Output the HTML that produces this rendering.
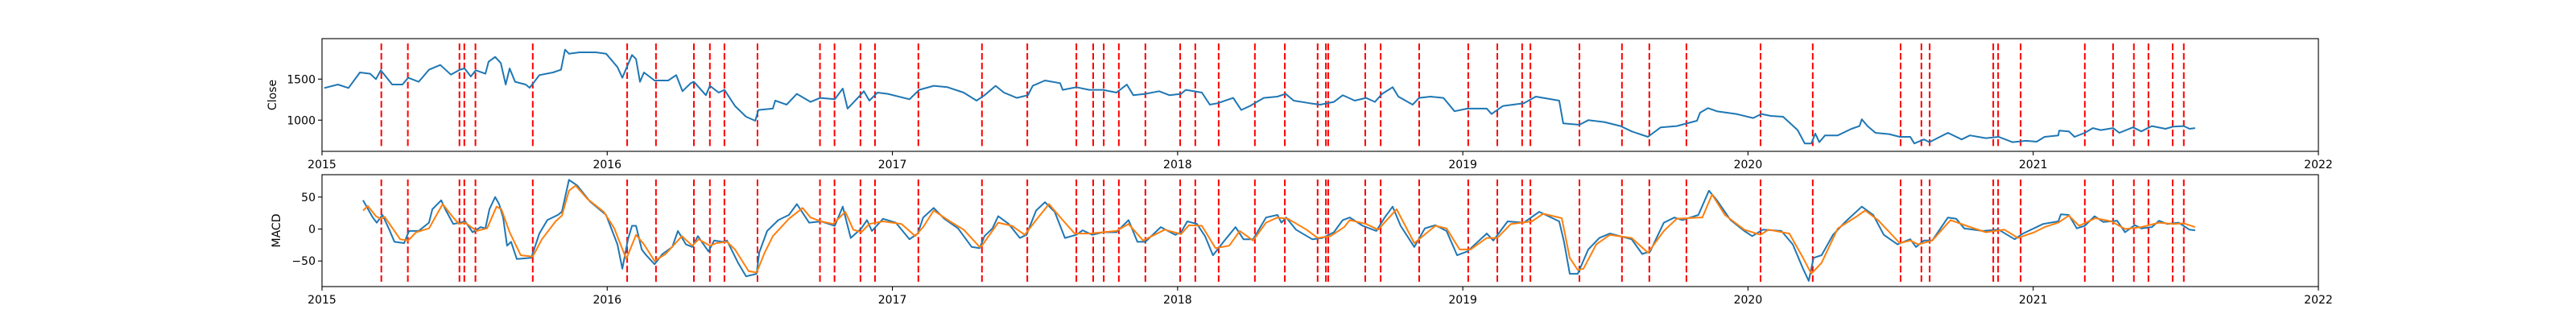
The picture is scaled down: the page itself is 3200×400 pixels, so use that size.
<!DOCTYPE html>
<html><head><meta charset="utf-8"><style>
html,body{margin:0;padding:0;background:#fff;}
svg{display:block;font-family:"DejaVu Sans","Liberation Sans",sans-serif;}
</style></head><body>
<svg id="chart" width="3200" height="400" viewBox="0 0 3200 400" xmlns="http://www.w3.org/2000/svg"></svg>
<script>
// time values are in years since 2015-01-01
const xTickLabels = ["2015","2016","2017","2018","2019","2020","2021","2022"];
const closeTicks = [1000,1500];
const macdTicks = [-50,0,50];
const signalT = [0.208,0.301,0.482,0.499,0.538,0.739,1.070,1.171,1.304,1.360,1.411,1.527,1.746,1.797,1.888,1.939,2.091,2.314,2.473,2.645,2.704,2.741,2.794,2.887,3.009,3.062,3.144,3.271,3.376,3.491,3.520,3.528,3.658,3.712,3.847,4.019,4.121,4.208,4.237,4.409,4.558,4.654,4.784,5.044,5.227,5.535,5.608,5.637,5.860,5.877,5.956,6.181,6.280,6.353,6.404,6.489,6.528];
const closeT = [0.008,0.056,0.093,0.133,0.169,0.189,0.206,0.246,0.282,0.302,0.339,0.375,0.415,0.452,0.483,0.500,0.522,0.539,0.573,0.584,0.607,0.627,0.644,0.658,0.677,0.714,0.728,0.742,0.762,0.810,0.838,0.852,0.866,0.903,0.960,0.996,1.036,1.053,1.073,1.087,1.101,1.115,1.129,1.166,1.214,1.242,1.264,1.293,1.304,1.346,1.360,1.391,1.411,1.448,1.487,1.519,1.530,1.581,1.589,1.629,1.665,1.713,1.747,1.798,1.826,1.843,1.883,1.900,1.919,1.948,1.984,2.060,2.094,2.145,2.193,2.250,2.295,2.323,2.362,2.391,2.436,2.475,2.492,2.535,2.588,2.597,2.645,2.690,2.738,2.786,2.822,2.845,2.887,2.935,2.972,3.012,3.029,3.085,3.113,3.141,3.195,3.223,3.254,3.302,3.350,3.379,3.407,3.463,3.500,3.548,3.579,3.590,3.621,3.661,3.692,3.717,3.754,3.774,3.824,3.847,3.887,3.932,3.971,4.016,4.084,4.101,4.141,4.214,4.256,4.338,4.352,4.409,4.440,4.496,4.553,4.592,4.649,4.694,4.750,4.821,4.832,4.860,4.891,4.959,5.018,5.047,5.080,5.123,5.174,5.199,5.222,5.236,5.250,5.270,5.315,5.363,5.391,5.399,5.419,5.447,5.495,5.532,5.569,5.583,5.617,5.636,5.701,5.749,5.778,5.834,5.879,5.927,5.975,6.012,6.040,6.088,6.091,6.125,6.145,6.181,6.209,6.237,6.280,6.302,6.350,6.379,6.416,6.464,6.492,6.528,6.548,6.568];
const closeV = [1392,1434,1392,1581,1565,1500,1608,1434,1434,1516,1467,1614,1672,1555,1614,1630,1532,1608,1565,1712,1770,1696,1434,1630,1467,1434,1395,1457,1549,1581,1614,1859,1810,1826,1826,1810,1647,1516,1679,1794,1745,1467,1581,1483,1483,1549,1353,1451,1467,1304,1418,1336,1369,1173,1042,993,1124,1141,1238,1189,1320,1222,1271,1255,1385,1141,1287,1353,1238,1336,1320,1255,1369,1418,1402,1336,1238,1304,1418,1336,1271,1304,1418,1483,1451,1369,1402,1369,1369,1336,1434,1304,1320,1353,1304,1320,1369,1336,1189,1206,1271,1124,1173,1271,1287,1320,1238,1206,1189,1222,1304,1287,1238,1271,1222,1320,1402,1287,1189,1271,1287,1271,1108,1141,1141,1075,1173,1206,1287,1238,961,944,1000,977,928,863,797,912,928,993,1091,1147,1108,1075,1026,1075,1052,1042,879,716,716,837,732,814,814,895,928,1010,928,846,830,797,797,716,765,732,846,765,814,781,797,732,748,738,797,814,873,863,797,846,903,879,903,846,912,863,928,895,922,928,895,903];
const macdT = [0.144,0.178,0.192,0.212,0.234,0.254,0.288,0.305,0.339,0.375,0.387,0.418,0.432,0.460,0.485,0.502,0.528,0.556,0.573,0.587,0.607,0.621,0.635,0.649,0.663,0.683,0.734,0.762,0.790,0.827,0.841,0.866,0.895,0.940,0.996,1.036,1.053,1.073,1.087,1.101,1.121,1.137,1.166,1.194,1.228,1.248,1.276,1.298,1.318,1.355,1.375,1.406,1.420,1.459,1.487,1.524,1.533,1.561,1.600,1.637,1.665,1.708,1.750,1.798,1.826,1.854,1.891,1.911,1.928,1.967,2.012,2.060,2.089,2.108,2.145,2.182,2.230,2.278,2.306,2.323,2.351,2.371,2.408,2.447,2.470,2.504,2.535,2.569,2.605,2.645,2.667,2.701,2.738,2.786,2.828,2.859,2.887,2.941,2.992,3.012,3.034,3.068,3.096,3.124,3.161,3.203,3.231,3.265,3.310,3.350,3.364,3.381,3.415,3.472,3.508,3.548,3.579,3.604,3.649,3.697,3.726,3.754,3.782,3.830,3.867,3.904,3.943,3.980,4.016,4.084,4.107,4.157,4.214,4.268,4.338,4.355,4.375,4.403,4.440,4.479,4.516,4.592,4.629,4.657,4.705,4.742,4.770,4.826,4.863,4.891,4.939,4.987,5.015,5.052,5.117,5.157,5.193,5.213,5.230,5.258,5.298,5.343,5.399,5.439,5.476,5.524,5.569,5.589,5.617,5.646,5.701,5.730,5.758,5.823,5.879,5.935,5.964,6.035,6.088,6.097,6.125,6.153,6.181,6.215,6.246,6.294,6.322,6.356,6.379,6.416,6.441,6.470,6.510,6.548,6.568];
const macdV = [45,18,10,22,1,-20,-22,-3,-3,10,31,45,31,8,10,12,-5,3,1,31,50,39,18,-26,-20,-47,-45,-7,14,22,27,77,68,43,22,-24,-62,-16,5,5,-32,-41,-55,-39,-28,-3,-24,-28,-11,-35,-18,-20,-18,-53,-74,-70,-37,-3,14,22,39,10,12,5,35,-14,1,14,-3,16,10,-16,-7,18,33,16,1,-28,-30,-11,1,20,8,-14,-9,29,42,27,-14,-9,-2,-9,-5,-5,14,-20,-20,3,-9,-5,12,8,-11,-41,-20,3,-16,-16,18,22,10,18,-1,-16,-14,-5,14,18,5,-3,18,35,5,-28,1,6,-3,-41,-35,-7,-18,12,10,27,12,-20,-70,-70,-32,-14,-7,-16,-39,-35,10,18,14,22,60,45,14,-3,-11,-1,-3,-24,-62,-81,-45,-41,-9,12,35,22,-9,-24,-16,-28,-18,-18,18,16,1,-3,-1,-16,-7,8,12,23,22,1,5,20,11,13,-5,6,1,3,13,8,10,-1,-2];
const sigLineT = [0.144,0.161,0.189,0.206,0.220,0.274,0.302,0.330,0.375,0.423,0.460,0.480,0.502,0.542,0.579,0.612,0.629,0.658,0.697,0.739,0.771,0.819,0.841,0.866,0.889,0.931,0.988,1.025,1.067,1.101,1.129,1.166,1.205,1.262,1.298,1.321,1.360,1.383,1.420,1.448,1.496,1.524,1.552,1.581,1.637,1.685,1.713,1.750,1.792,1.835,1.863,1.891,1.919,1.967,2.032,2.080,2.108,2.145,2.202,2.250,2.306,2.314,2.371,2.419,2.464,2.504,2.549,2.597,2.639,2.690,2.786,2.828,2.879,2.955,3.012,3.040,3.085,3.133,3.181,3.218,3.265,3.310,3.350,3.387,3.452,3.491,3.536,3.584,3.604,3.661,3.703,3.768,3.830,3.904,3.943,3.989,4.027,4.084,4.121,4.169,4.242,4.282,4.347,4.375,4.403,4.423,4.468,4.516,4.592,4.649,4.705,4.750,4.826,4.840,4.874,4.919,4.987,5.044,5.072,5.145,5.193,5.222,5.258,5.315,5.382,5.411,5.456,5.532,5.569,5.597,5.646,5.710,5.766,5.834,5.899,5.947,6.004,6.040,6.088,6.125,6.161,6.218,6.274,6.322,6.379,6.441,6.492,6.528,6.568];
const sigLineV = [29,36,20,16,19,-16,-18,-5,1,39,18,8,10,-3,1,35,31,-5,-41,-43,-16,12,21,60,68,47,27,1,-47,-9,-24,-50,-39,-11,-26,-16,-26,-22,-20,-32,-66,-68,-37,-11,16,33,18,12,8,27,-1,-5,8,12,8,-11,3,29,12,-1,-28,-26,10,5,-9,14,39,14,-7,-7,-3,8,-18,-1,-8,6,5,-30,-26,-3,-18,10,18,16,-1,-14,-11,3,14,8,-1,31,-22,5,1,-32,-32,-14,-14,8,12,24,17,-45,-64,-62,-24,-9,-14,-37,-3,16,18,18,54,22,-1,-9,-1,-7,-45,-70,-53,1,20,29,14,-22,-18,-24,-18,14,5,-5,-1,-14,-5,3,10,21,5,17,12,0,3,10,8,9,3];

const NS = "http://www.w3.org/2000/svg";
const svg = document.getElementById('chart');
const X0 = 400, X1 = 2880;
function xs(t){ return X0 + (t/7)*(X1-X0); }
function mk(tag, attrs, parent){
  const e = document.createElementNS(NS, tag);
  for (const k in attrs) e.setAttribute(k, attrs[k]);
  (parent||svg).appendChild(e);
  return e;
}
function panel(top, bottom, ymin, ymax, ticks, label, name){
  const g = mk('g', {});
  
  
  const ys = v => bottom - (v-ymin)/(ymax-ymin)*(bottom-top);
  // red signal lines
  const gl = mk('g', {}, g);
  
  
  const y0 = top + (bottom-top)*0.043, y1 = bottom - (bottom-top)*0.043;
  signalT.forEach(t => {
    const l = mk('line', {x1:xs(t), x2:xs(t), y1:y0, y2:y1, stroke:'#ff0000', 'stroke-width':2, 'stroke-dasharray':'8.3,3.6'}, gl);
    
    
  });
  // frame
  const fr = mk('rect', {x:X0, y:top, width:X1-X0, height:bottom-top, fill:'none', stroke:'#000', 'stroke-width':1.1}, g);
  
  
  // y ticks
  ticks.forEach(v => {
    const y = ys(v);
    mk('line', {x1:X0-5, x2:X0, y1:y, y2:y, stroke:'#000', 'stroke-width':1.1}, g);
    const tx = mk('text', {x:X0-8, y:y+5, 'text-anchor':'end', 'font-size':'14px', fill:'#000'}, g);
    tx.textContent = v < 0 ? '\u2212' + Math.abs(v) : String(v);
    
    
  });
  // x ticks
  xTickLabels.forEach((lab, i) => {
    const x = xs(i);
    mk('line', {x1:x, x2:x, y1:bottom, y2:bottom+5, stroke:'#000', 'stroke-width':1.1}, g);
    const tx = mk('text', {x:x, y:bottom+21, 'text-anchor':'middle', 'font-size':'14px', fill:'#000'}, g);
    tx.textContent = lab;
    
    
  });
  const cy = (top+bottom)/2;
  const lx = name === 'close' ? 343 : 348;
  const yl = mk('text', {x:lx, y:cy, 'text-anchor':'middle', 'font-size':'14px', fill:'#000', transform:'rotate(-90 '+lx+' '+cy+')'}, g);
  yl.textContent = label;
  
  
  return ys;
}
function line(T, V, ys, color, name){
  let d = '';
  T.forEach((t,i) => { d += (i?'L':'M') + xs(t).toFixed(1) + ',' + ys(V[i]).toFixed(1); });
  const p = mk('path', {d:d, fill:'none', stroke:color, 'stroke-width':2, 'stroke-linejoin':'round'});
  
  
}
const ysClose = panel(48, 188, 620, 1993, closeTicks, 'Close', 'close');
line(closeT, closeV, ysClose, '#1f77b4', 'close-price-line');
const ysMacd = panel(217, 356, -90, 85, macdTicks, 'MACD', 'macd');
line(macdT, macdV, ysMacd, '#1f77b4', 'macd-line');
line(sigLineT, sigLineV, ysMacd, '#ff7f0e', 'signal-ema-line');
</script>
</body></html>
